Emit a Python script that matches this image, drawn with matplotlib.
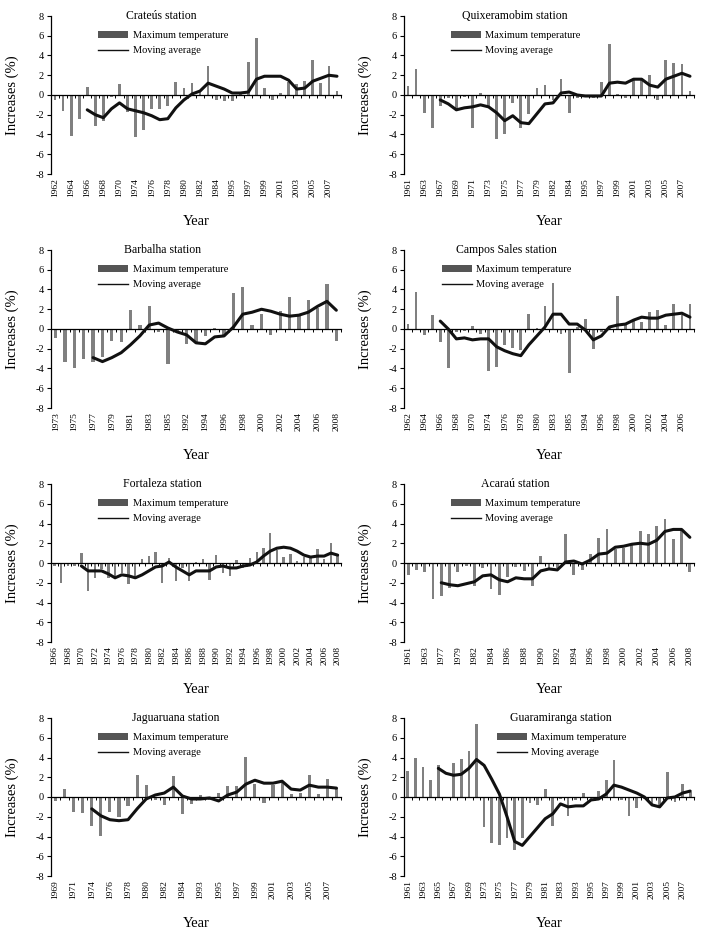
import numpy as np
import matplotlib
matplotlib.use("Agg")
import matplotlib.pyplot as plt
from matplotlib.patches import Patch
from matplotlib.lines import Line2D

plt.rcParams['font.family'] = 'Liberation Serif'
plt.rcParams['axes.unicode_minus'] = False

# ---- data ----
crateus_years = [1962, 1963, 1964, 1965, 1966, 1967, 1968, 1969, 1970, 1973, 1974, 1975,
                 1976, 1977, 1978, 1979, 1980, 1981, 1982, 1983, 1984, 1985, 1995, 1996,
                 1997, 1998, 1999, 2000, 2001, 2002, 2003, 2004, 2005, 2006, 2007, 2008]
crateus_tmax = [-0.5, -1.6, -4.2, -2.4, 0.8, -3.1, -2.6, -0.2, 1.1, -1.7, -4.3, -3.5,
                -1.4, -1.4, -1.1, 1.3, 0.7, 1.2, 0.3, 2.9, -0.5, -0.6, -0.6, 0.2,
                3.3, 5.8, 0.7, -0.5, 0.2, 1.3, 1.1, 1.4, 3.5, 1.2, 2.9, 0.4]
crateus_ma = [-1.5, -2.0, -2.3, -1.4, -0.8, -1.4, -1.6, -1.8, -2.1, -2.5, -2.4, -1.3,
              -0.5, 0.1, 0.4, 1.2, 0.9, 0.6, 0.2, 0.2, 0.3, 1.6, 1.9, 1.9, 1.9, 1.5,
              0.6, 0.7, 1.4, 1.7, 2.0, 1.9]

quix_years = [1961, 1962, 1963, 1965, 1967, 1968, 1969, 1970, 1971, 1972, 1973, 1974,
              1975, 1976, 1977, 1978, 1979, 1981, 1982, 1983, 1984, 1985, 1995, 1996,
              1997, 1998, 1999, 2000, 2001, 2002, 2003, 2004, 2005, 2006, 2007, 2008]
quix_tmax = [0.9, 2.6, -1.8, -3.3, -1.1, -0.3, -1.6, -0.2, -3.3, 0.2, -1.2, -4.5,
             -3.9, -0.8, -3.3, -1.9, 0.7, 1.0, -0.5, 1.6, -1.8, -0.3, -0.2, -0.3,
             1.3, 5.2, 0.1, -0.3, 1.6, 1.5, 2.0, -0.5, 3.5, 3.2, 3.1, 0.4]
quix_ma = [-0.5, -0.9, -1.5, -1.3, -1.2, -1.0, -1.2, -1.8, -2.6, -2.1, -2.8, -2.9,
           -1.9, -0.9, -0.8, 0.2, 0.3, 0.0, -0.1, -0.1, -0.1, 1.2, 1.3, 1.2, 1.6, 1.6,
           1.0, 0.8, 1.6, 1.9, 2.2, 1.9]

barbalha_years = [1973, 1974, 1975, 1976, 1977, 1978, 1979, 1980, 1981, 1982, 1983, 1984,
                  1985, 1986, 1992, 1993, 1994, 1995, 1996, 1997, 1998, 1999, 2000, 2001,
                  2002, 2003, 2004, 2005, 2006, 2007, 2008]
barbalha_tmax = [-0.9, -3.3, -3.9, -3.0, -3.3, -2.8, -1.2, -1.3, 1.9, 0.4, 2.3, -0.3,
                 -3.5, -0.3, -1.5, -1.3, -0.7, 0.1, -0.7, 3.6, 4.3, 0.4, 1.5, -0.6,
                 1.8, 3.2, 1.5, 2.9, 2.1, 4.6, -1.2]
barbalha_ma = [-2.9, -3.3, -2.9, -2.4, -1.6, -0.7, 0.4, 0.6, 0.1, -0.3, -0.6, -1.4,
               -1.5, -0.8, -0.7, 0.2, 1.5, 1.7, 2.0, 1.8, 1.5, 1.3, 1.4, 1.7, 2.3, 2.8, 1.9]

campos_years = [1962, 1963, 1964, 1965, 1966, 1967, 1968, 1969, 1970, 1973, 1974, 1975,
                1976, 1977, 1978, 1979, 1980, 1982, 1983, 1984, 1985, 1993, 1994, 1995,
                1996, 1997, 1998, 1999, 2000, 2001, 2002, 2003, 2004, 2005, 2006, 2007]
campos_tmax = [0.5, 3.7, -0.6, 1.4, -1.3, -4.0, -0.3, -0.2, 0.3, -0.5, -4.3, -3.8,
               -1.6, -1.9, -2.1, 1.5, 0.1, 2.3, 4.7, -0.5, -4.5, 0.2, 1.0, -2.0,
               -0.3, 0.2, 3.3, 0.5, 0.8, 0.7, 1.7, 1.9, 0.4, 2.5, 1.4, 2.5]
campos_ma = [0.8, 0.0, -1.0, -0.9, -1.1, -1.0, -1.0, -1.8, -2.2, -2.5, -2.7, -1.6,
             -0.7, 0.2, 1.5, 1.5, 0.5, 0.5, -0.1, -1.1, -0.7, 0.2, 0.4, 0.5, 0.9, 1.2,
             1.1, 1.1, 1.4, 1.5, 1.6, 1.2]

fortaleza_years = list(range(1966, 2009))
fortaleza_tmax = [-0.3, -2.0, -0.3, -0.3, 1.0, -2.8, -1.5, -0.6, -1.5, -1.3, -1.0, -2.1,
                  -1.3, 0.4, 0.7, 1.1, -2.0, 0.5, -1.8, -0.5, -1.8, 0.1, 0.4, -1.7,
                  0.8, -1.0, -1.3, 0.3, -0.5, 0.5, 1.1, 1.5, 3.0, 1.3, 0.6, 0.9,
                  0.2, 0.6, 0.7, 1.4, 0.4, 2.0, 0.9]
fortaleza_ma = [-0.3, -0.8, -0.8, -0.8, -1.1, -1.5, -1.2, -1.3, -1.5, -1.2, -0.8, -0.4,
                -0.3, 0.1, -0.4, -0.8, -1.2, -0.8, -0.8, -0.8, -0.4, -0.3, -0.5, -0.5,
                -0.3, -0.2, 0.1, 0.7, 1.2, 1.5, 1.6, 1.5, 1.2, 0.8, 0.6, 0.7, 0.7, 1.0, 0.8]

acarau_years = [1961, 1962, 1963, 1976, 1977, 1978, 1979, 1981] + list(range(1982, 2009))
acarau_tmax = [-1.2, -0.7, -0.9, -3.6, -3.3, -2.5, -0.9, -0.3, -2.3, -0.5, -2.6, -3.2,
               -1.4, -0.4, -0.8, -2.3, 0.7, -0.5, -0.5, 2.9, -1.2, -0.7, 0.9, 2.5,
               3.4, 1.4, 1.5, 1.8, 3.2, 2.9, 3.7, 4.5, 2.4, 3.3, -0.9]
acarau_ma = [-2.0, -2.2, -2.3, -2.1, -1.9, -1.3, -1.2, -1.7, -1.9, -1.5, -1.6, -1.6,
             -0.8, -0.6, -0.7, 0.1, 0.2, -0.1, 0.3, 0.9, 1.0, 1.6, 1.7, 1.9, 2.0, 1.9,
             2.3, 3.2, 3.4, 3.4, 2.6]

jagua_years = [1969, 1970, 1971, 1973] + list(range(1974, 1986)) + list(range(1993, 2009))
jagua_tmax = [-0.4, 0.8, -1.5, -1.6, -2.9, -3.9, -1.5, -2.0, -0.9, 2.2, 1.2, -0.3,
              -0.8, 2.1, -1.7, -0.7, 0.2, -0.3, 0.4, 1.1, 1.1, 4.1, 1.3, -0.6,
              1.2, 1.4, 0.3, 0.4, 2.2, 0.3, 1.8, 0.9]
jagua_ma = [-1.2, -1.9, -2.3, -2.4, -2.3, -1.2, -0.2, 0.2, 0.4, 1.0, 0.1, -0.2,
            -0.2, -0.1, -0.4, 0.2, 0.5, 1.3, 1.7, 1.4, 1.4, 1.6, 0.8, 0.7, 1.2, 1.0, 1.0, 0.9]

guara_years = list(range(1961, 1970)) + [1971] + list(range(1973, 1984)) + [1985] + list(range(1993, 2009))
guara_tmax = [2.6, 4.0, 3.0, 1.7, 3.2, -0.1, 3.4, 3.8, 4.7, 7.4, -3.0, -4.7,
              -4.9, -4.2, -5.4, -4.2, -0.6, -0.8, 0.8, -2.9, -0.2, -1.9, -0.3, 0.4,
              -0.2, 0.6, 1.7, 3.7, -0.3, -1.9, -1.1, -0.2, -0.9, -0.8, 2.5, -0.5, 1.3, 0.5]
guara_ma = [2.9, 2.4, 2.2, 2.3, 2.9, 3.8, 3.2, 1.8, 0.3, -2.0, -4.5, -4.9, -4.0, -3.1,
            -2.2, -1.7, -0.7, -1.0, -0.9, -0.9, -0.3, -0.2, 0.3, 1.2, 1.0, 0.7, 0.4,
            0.0, -0.8, -1.0, -0.1, 0.0, 0.4, 0.6]

BAR = '#808080'

def panel(ax, title, years, tmax, ma, title_x, leg_x):
    n = len(years)
    x = np.arange(n)
    ax.bar(x, tmax, width=0.35, color=BAR, zorder=2)
    start = n - len(ma)
    ax.plot(x[start:], ma, color='#111111', lw=2.2, zorder=4,
            solid_joinstyle='round', solid_capstyle='round')
    ax.set_xlim(-0.5, n - 0.5)
    ax.set_ylim(-8, 8)
    ax.set_yticks(range(-8, 9, 2))
    ax.tick_params(axis='y', labelsize=7.5, length=3, width=0.8, pad=2)
    ax.set_xticks(x[::2])
    ax.set_xticklabels([str(y) for y in years[::2]], rotation=90, fontsize=6.8)
    ax.tick_params(axis='x', length=0, pad=3)
    for s in ['top', 'right', 'bottom']:
        ax.spines[s].set_visible(False)
    ax.spines['left'].set_linewidth(0.9)
    # zero line with category tick marks
    sec = ax.secondary_xaxis(0.5)
    sec.set_alignment('bottom')
    sec.set_xticks(np.arange(n) + 0.5)
    sec.tick_params(axis='x', direction='out', length=2.5, width=0.7,
                    labelbottom=False, labeltop=False)
    sec.spines['bottom'].set_linewidth(0.9)
    sec.set_zorder(3)
    ax.set_xlabel('Year', fontsize=10.5, labelpad=13)
    ax.set_ylabel('Increases (%)', fontsize=10.5, labelpad=12)
    ax.text(title_x, 1.0, title, transform=ax.transAxes, ha='center', va='center',
            fontsize=8.5)
    handles = [Patch(facecolor='#555555', edgecolor='none'),
               Line2D([], [], color='#111111', lw=1.0)]
    ax.legend(handles, ['Maximum temperature', 'Moving average'], loc='upper left',
              bbox_to_anchor=(leg_x, 0.905), frameon=False, fontsize=7.5,
              handlelength=2.9, handletextpad=0.4, labelspacing=0.55,
              borderpad=0, borderaxespad=0)


fig = plt.figure(figsize=(7.08, 9.47), dpi=100)
lefts = [51 / 708, 404 / 708]
width = 290 / 708
bottoms = [1 - 174 / 947, 1 - 408 / 947, 1 - 642 / 947, 1 - 876 / 947]
height = 158 / 947

specs = [
    ('Crateús station', crateus_years, crateus_tmax, crateus_ma, 0.38, 0.163),
    ('Quixeramobim station', quix_years, quix_tmax, quix_ma, 0.383, 0.161),
    ('Barbalha station', barbalha_years, barbalha_tmax, barbalha_ma, 0.386, 0.163),
    ('Campos Sales station', campos_years, campos_tmax, campos_ma, 0.353, 0.13),
    ('Fortaleza station', fortaleza_years, fortaleza_tmax, fortaleza_ma, 0.385, 0.163),
    ('Acaraú station', acarau_years, acarau_tmax, acarau_ma, 0.383, 0.161),
    ('Jaguaruana station', jagua_years, jagua_tmax, jagua_ma, 0.429, 0.163),
    ('Guaramiranga station', guara_years, guara_tmax, guara_ma, 0.54, 0.32),
]

for k, spec in enumerate(specs):
    row, col = divmod(k, 2)
    ax = fig.add_axes([lefts[col], bottoms[row], width, height])
    panel(ax, *spec)

fig.savefig('out.png', dpi=100)
